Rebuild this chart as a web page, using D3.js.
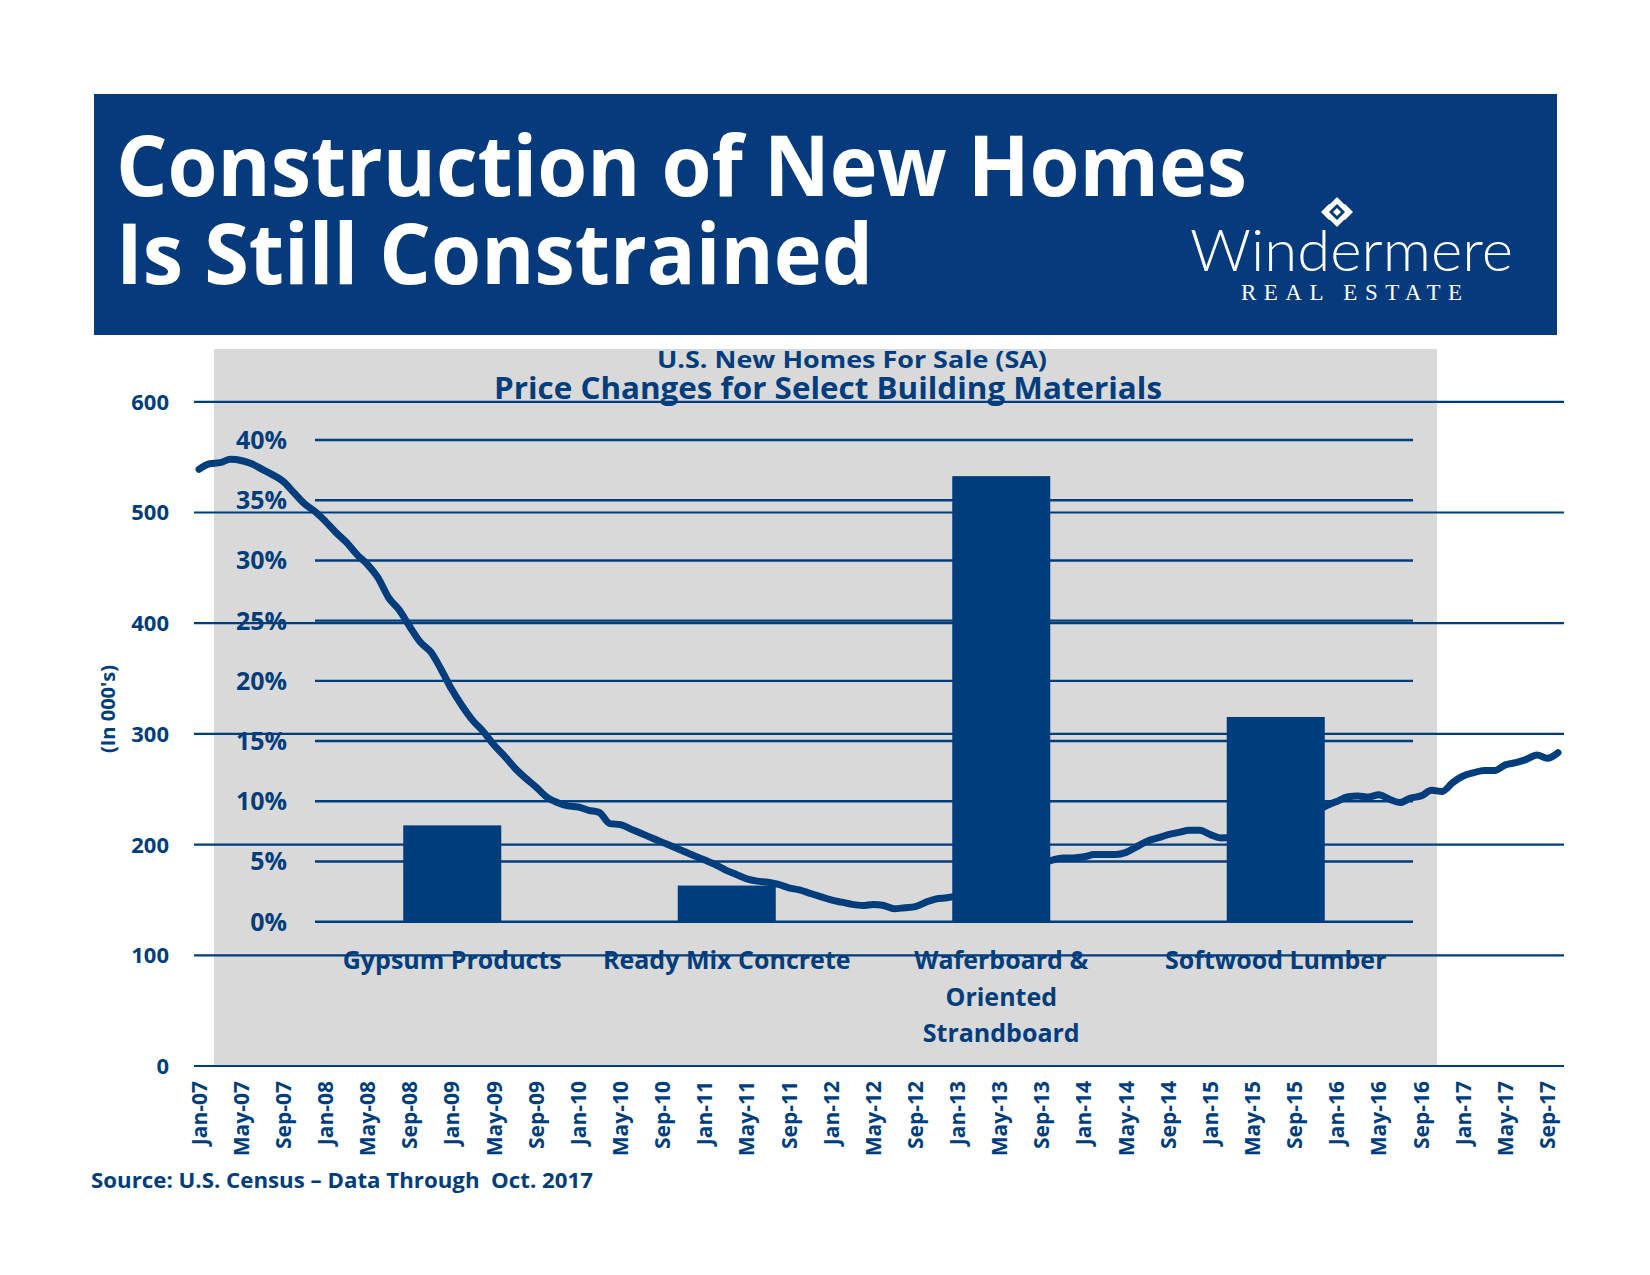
<!DOCTYPE html>
<html><head><meta charset="utf-8">
<script src="https://cdn.jsdelivr.net/npm/d3@7"></script>
<style>body{margin:0;background:#fff}</style>
</head><body>
<svg id="c" width="1650" height="1275"></svg>
<script>
const titleLines = ["Construction of New Homes", "Is Still Constrained"];
const chartTitle = "U.S. New Homes For Sale (SA)";
const chartSubtitle = "Price Changes for Select Building Materials";
const sourceNote = "Source: U.S. Census \u2013 Data Through  Oct. 2017";
const yAxisTitle = "(In 000's)";
const homesTicks = [0, 100, 200, 300, 400, 500, 600];
const pctTicks = [0, 5, 10, 15, 20, 25, 30, 35, 40];
const materials = ["Gypsum Products", "Ready Mix Concrete", "Waferboard & Oriented Strandboard", "Softwood Lumber"];
const materialLabelLines = [["Gypsum Products"], ["Ready Mix Concrete"], ["Waferboard &", "Oriented", "Strandboard"], ["Softwood Lumber"]];
const materialChange = [8, 3, 37, 17];
const xTickLabels = ["Jan-07","May-07","Sep-07","Jan-08","May-08","Sep-08","Jan-09","May-09","Sep-09",
  "Jan-10","May-10","Sep-10","Jan-11","May-11","Sep-11","Jan-12","May-12","Sep-12","Jan-13","May-13","Sep-13",
  "Jan-14","May-14","Sep-14","Jan-15","May-15","Sep-15","Jan-16","May-16","Sep-16","Jan-17","May-17","Sep-17"];
// New homes for sale (thousands, SA), monthly Jan-2007 .. Oct-2017
const homesForSale = [
  539,544,545,548,547,544,539,534,528,518,508,501,
  492,482,473,462,453,441,423,412,397,383,374,358,
  340,325,312,302,290,280,269,260,252,243,238,235,
  234,231,229,219,218,214,210,206,202,198,194,190,
  186,182,177,173,169,167,166,164,161,159,156,153,
  150,148,146,145,146,145,142,143,144,148,151,152,
  154,157,160,164,167,171,175,178,183,186,188,188,
  189,191,191,191,193,198,203,206,209,211,213,213,
  209,206,207,210,213,216,219,221,224,227,230,235,
  239,243,244,243,245,241,238,242,244,249,248,256,
  262,265,267,267,272,274,277,281,278,283
];

const navy = "#003d7c";
const banner = "#053a7d";
const grey = "#d9d9d9";
const font = "'Open Sans', 'Noto Sans', sans-serif";

const months = d3.timeMonth.range(new Date(2007, 0, 1), new Date(2017, 10, 1)).map(d3.timeFormat("%b-%y"));

const svg = d3.select("#c");

// Banner
svg.append("rect").attr("x", 94).attr("y", 94).attr("width", 1463).attr("height", 241).attr("fill", banner);
const titleWidths = [1131, 757];
const titleBase = [196, 284];
titleLines.forEach((t, i) => {
  svg.append("text").attr("x", 116).attr("y", titleBase[i])
    .attr("font-family", font).attr("font-weight", 700).attr("font-size", 84)
    .attr("fill", "#fff").attr("textLength", titleWidths[i]).attr("lengthAdjust", "spacingAndGlyphs")
    .text(t);
});
// Logo
const lg = svg.append("g").attr("transform", "translate(1337,212)");
lg.append("path").attr("d", "M0,-16L16,0L0,16L-16,0Z").attr("fill", "#fff");
lg.append("path").attr("d", "M0,-8L8,0L0,8L-8,0Z").attr("fill", banner);
lg.append("path").attr("d", "M0,-4L4,0L0,4L-4,0Z").attr("fill", "#fff");
lg.append("path").attr("d", "M-8,-8L0,-16M8,-8L0,-16M-8,8L0,16M8,8L0,16").attr("stroke", banner).attr("stroke-width", 1.5);
svg.append("text").attr("x", 1190).attr("y", 271)
  .attr("font-family", "Lato, 'Open Sans', sans-serif").attr("font-weight", 300).attr("font-size", 58)
  .attr("fill", "#fff").attr("textLength", 323).attr("lengthAdjust", "spacingAndGlyphs").text("Windermere");
svg.append("text").attr("x", 1241).attr("y", 300)
  .attr("font-family", "'Liberation Serif', 'DejaVu Serif', serif").attr("font-size", 23)
  .attr("fill", "#fff").attr("textLength", 221).attr("lengthAdjust", "spacing").text("REAL ESTATE");

// Scales
const x = d3.scalePoint().domain(months).range([199, 1558]);
const yL = d3.scaleLinear().domain([0, 600]).range([1066, 401.8]);
const yP = d3.scaleLinear().domain([0, 40]).range([921.7, 440]);
const xB = d3.scaleBand().domain(materials).range([315, 1413]);
const barW = 98;

// Grey panel
svg.append("rect").attr("x", 214).attr("y", 349).attr("width", 1223).attr("height", 717).attr("fill", grey);

// Left grid lines
svg.append("g").selectAll("line").data(homesTicks).join("line")
  .attr("x1", 194).attr("x2", 1564).attr("y1", d => yL(d)).attr("y2", d => yL(d))
  .attr("stroke", navy).attr("stroke-width", 2.2);
// Percent grid lines
svg.append("g").selectAll("line").data(pctTicks).join("line")
  .attr("x1", 315).attr("x2", 1413).attr("y1", d => yP(d)).attr("y2", d => yP(d))
  .attr("stroke", navy).attr("stroke-width", 2.4);

// Left labels
svg.append("g").selectAll("text").data(homesTicks).join("text")
  .attr("x", 169).attr("y", d => yL(d)).attr("dy", "0.36em").attr("text-anchor", "end")
  .attr("font-family", font).attr("font-weight", 700).attr("font-size", 22).attr("fill", navy)
  .text(d => d);
// Percent labels
svg.append("g").selectAll("text").data(pctTicks).join("text")
  .attr("x", 287).attr("y", d => yP(d)).attr("dy", "0.36em").attr("text-anchor", "end")
  .attr("font-family", font).attr("font-weight", 700).attr("font-size", 25).attr("fill", navy)
  .text(d => d + "%");

// Y axis title
svg.append("text").attr("transform", "translate(108,709) rotate(-90)").attr("dy", "0.35em")
  .attr("text-anchor", "middle").attr("font-family", font).attr("font-weight", 700).attr("font-size", 20)
  .attr("fill", navy).text(yAxisTitle);

// Line
const line = d3.line().x((d, i) => x(months[i])).y(d => yL(d)).curve(d3.curveMonotoneX);
svg.append("path").datum(homesForSale).attr("d", line).attr("fill", "none")
  .attr("stroke", navy).attr("stroke-width", 7).attr("stroke-linecap", "round").attr("stroke-linejoin", "round");

// Bars
svg.append("g").selectAll("rect").data(materials).join("rect")
  .attr("x", d => xB(d) + xB.bandwidth() / 2 - barW / 2).attr("width", barW)
  .attr("y", (d, i) => yP(materialChange[i])).attr("height", (d, i) => yP(0) - yP(materialChange[i]))
  .attr("fill", navy);

// Category labels
materials.forEach((m, i) => {
  const t = svg.append("text").attr("text-anchor", "middle").attr("font-family", font).attr("font-weight", 700)
    .attr("font-size", 25).attr("fill", navy);
  materialLabelLines[i].forEach((s, j) => {
    t.append("tspan").attr("x", xB(m) + xB.bandwidth() / 2).attr("y", 969 + j * 36.5).text(s);
  });
});

// X tick labels
svg.append("g").selectAll("text").data(xTickLabels).join("text")
  .attr("transform", d => `translate(${x(d)},1081) rotate(-90)`).attr("dy", "0.36em")
  .attr("text-anchor", "end").attr("font-family", font).attr("font-weight", 700).attr("font-size", 21)
  .attr("fill", navy).text(d => d);

// Chart titles
svg.append("text").attr("x", 852).attr("y", 368).attr("text-anchor", "middle")
  .attr("font-family", font).attr("font-weight", 700).attr("font-size", 23).attr("fill", navy)
  .attr("textLength", 390).attr("lengthAdjust", "spacingAndGlyphs").text(chartTitle);
svg.append("text").attr("x", 828).attr("y", 399).attr("text-anchor", "middle")
  .attr("font-family", font).attr("font-weight", 700).attr("font-size", 30).attr("fill", navy)
  .attr("textLength", 668).attr("lengthAdjust", "spacingAndGlyphs").text(chartSubtitle);

// Source
svg.append("text").attr("x", 91).attr("y", 1188).style("white-space", "pre")
  .attr("font-family", font).attr("font-weight", 700).attr("font-size", 22).attr("fill", navy)
  .attr("textLength", 502).attr("lengthAdjust", "spacingAndGlyphs").text(sourceNote);
</script>
</body></html>
